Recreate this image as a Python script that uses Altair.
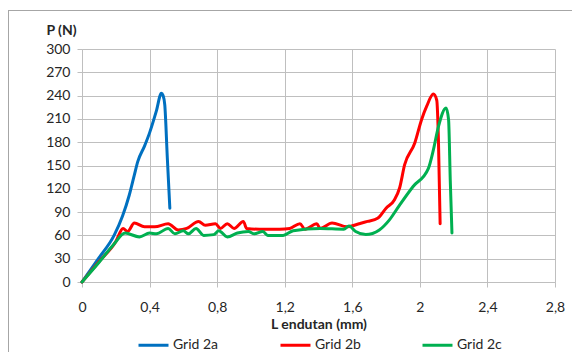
import altair as alt
import pandas as pd

# Grid 2a
a_x = [0, 0.1, 0.19, 0.24, 0.28, 0.31, 0.33, 0.37, 0.40, 0.44, 0.47, 0.48, 0.49, 0.505, 0.52]
a_y = [0, 31, 60, 85, 112, 138, 155, 175, 192, 220, 243, 240, 228, 160, 95]

# Grid 2b
b_x = [0, 0.1, 0.2, 0.243, 0.27, 0.31, 0.37, 0.43, 0.51, 0.57, 0.62, 0.69, 0.73, 0.79, 0.82,
       0.86, 0.90, 0.955, 0.975, 1.05, 1.17, 1.23, 1.29, 1.32, 1.39, 1.41, 1.48, 1.57, 1.64,
       1.69, 1.75, 1.80, 1.85, 1.88, 1.91, 1.97, 2.01, 2.04, 2.08, 2.10, 2.11, 2.12]
b_y = [0, 26, 52, 69, 65, 76, 71, 71, 75, 67, 69, 78, 73, 75, 69,
       75, 69, 78, 69, 68, 68, 69, 75, 68, 75, 69, 76, 71, 75,
       78, 82, 95, 106, 121, 151, 179, 209, 226, 242, 234, 183, 75]

# Grid 2c
c_x = [0, 0.1, 0.19, 0.255, 0.34, 0.40, 0.44, 0.51, 0.55, 0.60, 0.63, 0.675, 0.72, 0.78, 0.81,
       0.86, 0.92, 0.985, 1.02, 1.07, 1.10, 1.19, 1.25, 1.41, 1.55, 1.58, 1.62, 1.68, 1.76,
       1.82, 1.88, 1.96, 2.05, 2.08, 2.11, 2.155, 2.17, 2.18, 2.19]
c_y = [0, 25, 49, 63, 58, 63, 62, 69, 62, 66, 62, 69, 60, 61, 66,
       58, 63, 65, 62, 65, 60, 60, 66, 69, 68, 72, 65, 61, 67,
       80, 99, 123, 146, 170, 200, 224, 209, 131, 63]

series_names = ["Grid 2a", "Grid 2b", "Grid 2c"]
series_colors = ["#0070C0", "#FF0000", "#00B050"]
x_ticks = [0, 0.4, 0.8, 1.2, 1.6, 2.0, 2.4, 2.8]
y_ticks = [0, 30, 60, 90, 120, 150, 180, 210, 240, 270, 300]

rows = []
for name, xs, ys in zip(series_names, [a_x, b_x, c_x], [a_y, b_y, c_y]):
    for i, (x, y) in enumerate(zip(xs, ys)):
        rows.append({"series": name, "x": x, "y": y, "i": i})
df = pd.DataFrame(rows)

FONT = "Lato"
GRID = "#bfbfbf"
TXT = "#262626"

lines = alt.Chart(df).mark_line(strokeWidth=3, interpolate="monotone", strokeCap="round",
                                strokeJoin="round").encode(
    x=alt.X("x:Q",
            scale=alt.Scale(domain=[0, 2.8], nice=False, zero=False),
            axis=alt.Axis(values=x_ticks, title="L endutan (mm)",
                          labelExpr="replace(format(datum.value, '.1~f'), '.', ',')",
                          labelFlush=False,
                          grid=True, gridColor=GRID, domainColor=GRID, tickColor=GRID,
                          tickSize=5, labelPadding=13, labelFont=FONT, labelFontSize=14,
                          labelColor=TXT, titleFont=FONT, titleFontSize=14,
                          titleFontWeight="bold", titleColor=TXT,
                          titleX=236.5, titleY=42, titleBaseline="middle", titleAlign="center")),
    y=alt.Y("y:Q",
            scale=alt.Scale(domain=[0, 300], nice=False),
            axis=alt.Axis(values=y_ticks, title="P (N)", titleAngle=0,
                          labelFlush=False,
                          grid=True, gridColor=GRID, domainColor=GRID, tickColor=GRID,
                          tickSize=5, labelPadding=7, labelFont=FONT, labelFontSize=14,
                          labelColor=TXT, titleFont=FONT, titleFontSize=14,
                          titleFontWeight="bold", titleColor=TXT,
                          titleX=-21, titleY=-19, titleBaseline="middle", titleAlign="center")),
    color=alt.Color("series:N",
                    scale=alt.Scale(domain=series_names, range=series_colors),
                    legend=alt.Legend(title=None, orient="none", legendX=55, legendY=279.5,
                                      direction="horizontal", symbolType="stroke",
                                      symbolSize=900, symbolStrokeWidth=3, labelOffset=3,
                                      columnPadding=55, labelFont=FONT, labelFontSize=14,
                                      labelColor=TXT)),
    order="i:Q",
    detail="series:N",
)

frame_df = pd.DataFrame({"k": [0]})
left_border = alt.Chart(frame_df).mark_rule(color="#a6a6a6", strokeWidth=1).encode(
    x=alt.value(-73.5), y=alt.value(-38.5), y2=alt.value(310))
top_border = alt.Chart(frame_df).mark_rule(color="#a6a6a6", strokeWidth=1).encode(
    x=alt.value(-74), x2=alt.value(500), y=alt.value(-38.5))

chart = alt.layer(left_border, top_border, lines).properties(
    width=473, height=233,
    autosize=alt.AutoSizeParams(type="none"),
    padding={"left": 74, "top": 41, "right": 17, "bottom": 70},
).configure_view(strokeWidth=0)

chart.save("out.html", embed_options={"renderer": "svg", "actions": False})
